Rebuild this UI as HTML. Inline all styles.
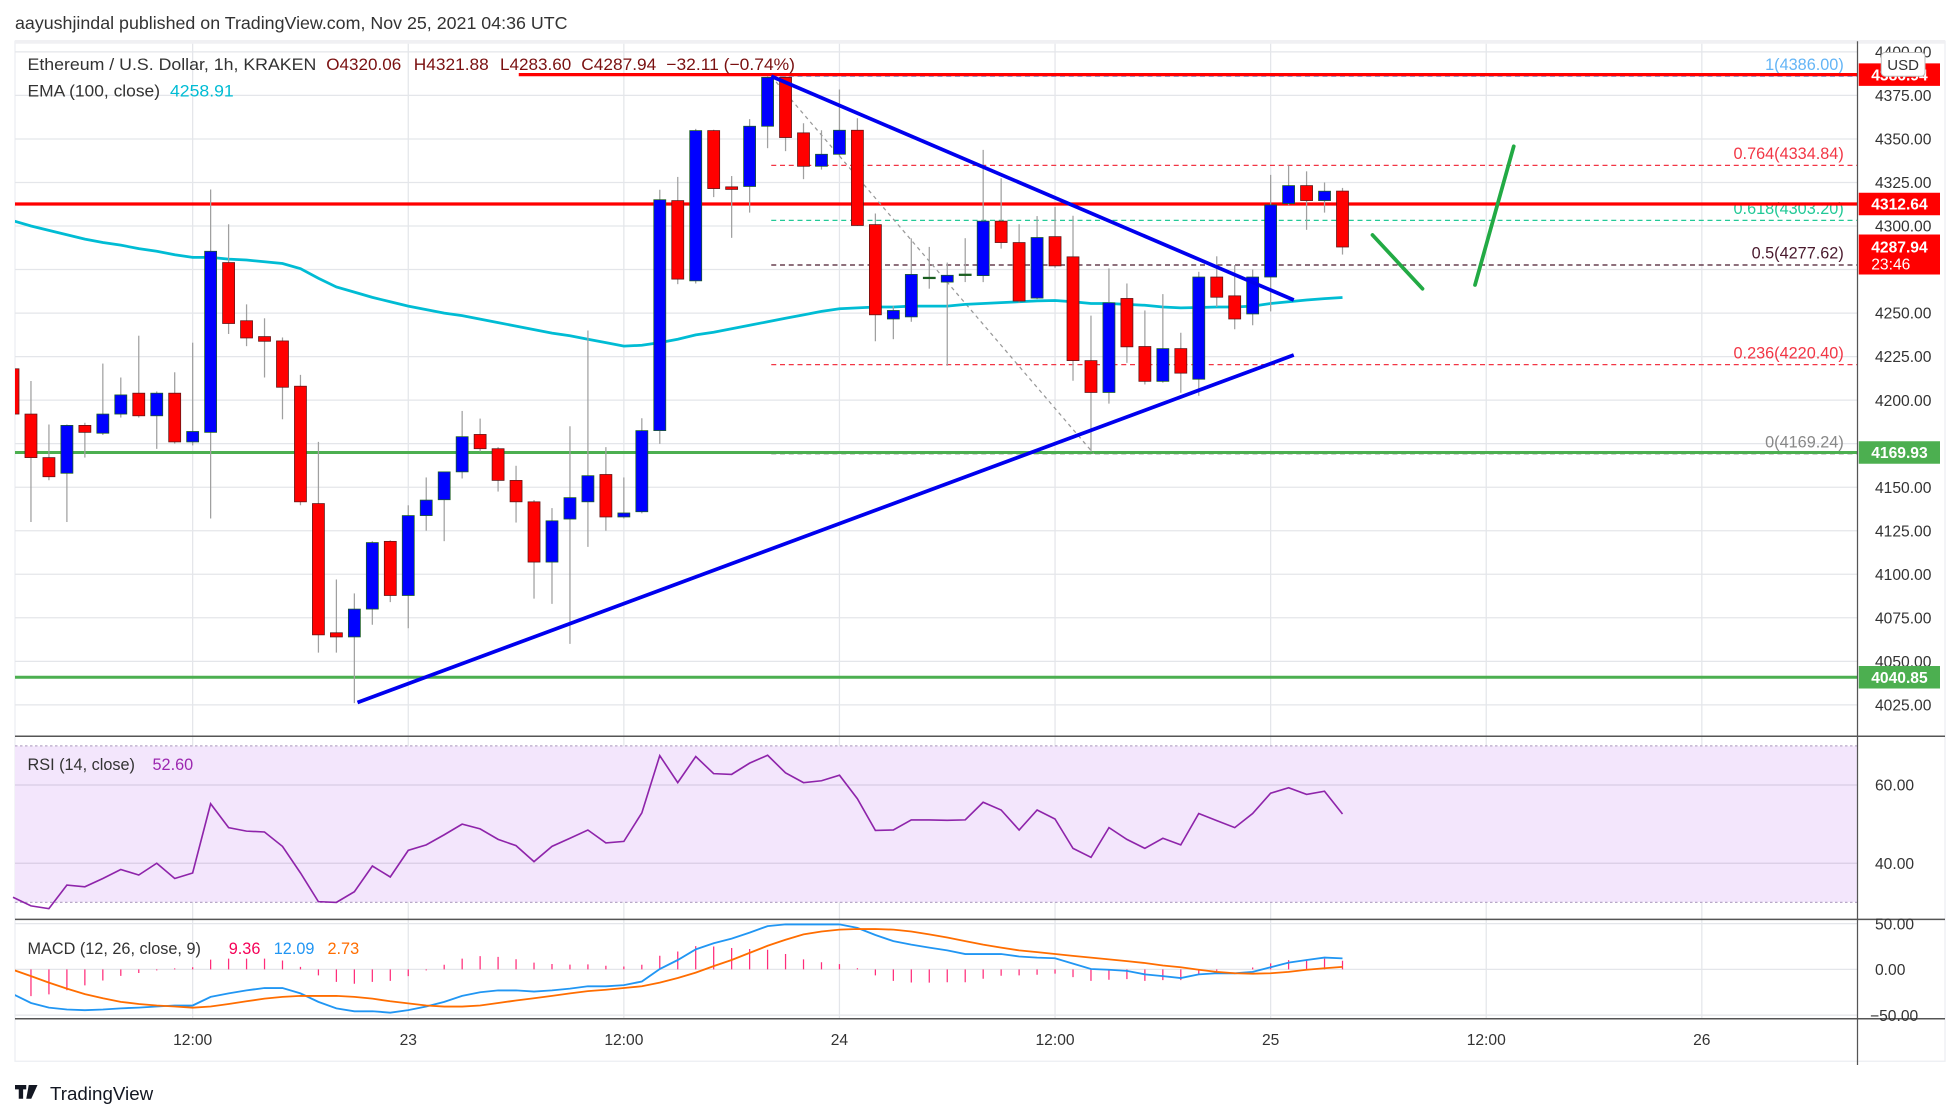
<!DOCTYPE html>
<html><head><meta charset="utf-8">
<style>
html,body{margin:0;padding:0;background:#fff;}
svg{display:block;font-family:"Liberation Sans",sans-serif;}
</style></head>
<body>
<svg id="chart" width="1950" height="1114" viewBox="0 0 1560 891.2" xmlns="http://www.w3.org/2000/svg">
<rect x="0" y="0" width="1560" height="891.2" fill="#fff"/>
<text x="12" y="23" font-size="14" fill="#333" textLength="442" lengthAdjust="spacingAndGlyphs">aayushjindal published on TradingView.com, Nov 25, 2021 04:36 UTC</text>
<rect x="12" y="33" width="1544" height="816" fill="#fff" stroke="#eceef2" stroke-width="1"/>
<rect x="12" y="32" width="1544" height="3" fill="#f0f0f3"/>
<g id="grid"></g>
<rect x="12" y="597" width="1474" height="124.6" fill="#f3e6fc"/>
<g id="rsiGrid"></g>
<g id="drawings-back"></g>
<g id="candles" clip-path="url(#mainclip)"></g>
<g id="drawings"></g>
<g id="rsiG"></g>
<g id="macdG" clip-path="url(#macdclip)"></g>
<defs>
<clipPath id="mainclip"><rect x="12" y="35" width="1474" height="554"/></clipPath>
<clipPath id="macdclip"><rect x="12" y="736" width="1474" height="79"/></clipPath>
</defs>
<g id="axes"></g>
<g id="legend">
<text x="22" y="56" font-size="13.5" fill="#333" textLength="231" lengthAdjust="spacingAndGlyphs">Ethereum / U.S. Dollar, 1h, KRAKEN</text>
<text x="261" y="56" font-size="13.5" fill="#7a1010" textLength="60" lengthAdjust="spacingAndGlyphs">O4320.06</text>
<text x="331" y="56" font-size="13.5" fill="#7a1010" textLength="60" lengthAdjust="spacingAndGlyphs">H4321.88</text>
<text x="400" y="56" font-size="13.5" fill="#7a1010" textLength="57" lengthAdjust="spacingAndGlyphs">L4283.60</text>
<text x="465" y="56" font-size="13.5" fill="#7a1010" textLength="60" lengthAdjust="spacingAndGlyphs">C4287.94</text>
<text x="533" y="56" font-size="13.5" fill="#7a1010" textLength="103" lengthAdjust="spacingAndGlyphs">−32.11 (−0.74%)</text>
<text x="22" y="77" font-size="13.5" fill="#333" textLength="106" lengthAdjust="spacingAndGlyphs">EMA (100, close)</text>
<text x="136" y="77" font-size="13.5" fill="#00bcd4" textLength="51" lengthAdjust="spacingAndGlyphs">4258.91</text>
<text x="22" y="616" font-size="13" fill="#333">RSI (14, close)</text>
<text x="122" y="616" font-size="13" fill="#9c27b0">52.60</text>
<text x="22" y="763" font-size="13" fill="#333">MACD (12, 26, close, 9)</text>
<text x="183" y="763" font-size="13" fill="#f50057">9.36</text>
<text x="219" y="763" font-size="13" fill="#2196f3">12.09</text>
<text x="262" y="763" font-size="13" fill="#ff6d00">2.73</text>
</g>
<g>
<rect x="12" y="868" width="9" height="3.5" fill="#131722"/>
<rect x="15" y="868" width="3.5" height="11" fill="#131722"/>
<polygon points="23,868 30,868 25,879 21,879" fill="#131722"/>
<text x="40" y="880" font-size="15" fill="#131722">TradingView</text>
</g>
<script>
const opens=[4218,4192,4167,4158,4185.5,4181,4192,4204,4191,4204,4176,4181.5,4279,4245.6,4236.5,4234,4208,4140.6,4066.4,4064,4080,4118.9,4087.8,4133.7,4142.8,4158.8,4180.3,4172.1,4153.9,4141.6,4107,4131.7,4141.6,4157.3,4132.9,4135.9,4182.5,4314.6,4268.5,4354.8,4322.5,4322.7,4357.3,4385.4,4353.5,4334.3,4341.2,4355,4300.8,4246.6,4247.8,4270.2,4267.8,4271.8,4271.5,4302.8,4290.5,4258.6,4293.9,4282.3,4222.7,4204.4,4258.4,4230.8,4210.8,4229.6,4212,4270.7,4259.9,4249.5,4270.7,4312.9,4323.2,4314.6,4320.06];
const highs=[4220,4211,4186,4186,4187,4221,4213,4237,4205,4216,4233,4321,4301,4255,4247,4236,4214.5,4176,4097,4089,4119,4119.5,4139.6,4155.6,4159,4193.8,4189.4,4173,4162.3,4142.6,4138,4185,4240,4173,4155.6,4189.6,4320.8,4328.2,4355.8,4355.3,4328.7,4361.4,4386,4386,4359,4355,4378.4,4361.9,4307.2,4254,4292.9,4288,4279,4293,4343.7,4327.4,4301,4305.7,4310.9,4305.9,4248.5,4275.7,4267,4251.5,4260.9,4238.7,4273.7,4282.6,4277.6,4275,4329.4,4334.8,4331.4,4325,4321.88];
const lows=[4188,4130,4154,4130,4167,4180,4190,4190,4172,4175,4174,4132,4238,4231,4213,4189,4139.6,4055,4055,4026,4071,4084,4069,4125,4119,4155,4170.4,4147.5,4129.7,4086,4083,4060,4115.7,4125,4132,4135,4174.9,4266.6,4267,4316.6,4293.2,4307.7,4344.7,4343,4326.9,4332.4,4340,4300,4233.8,4235,4245,4264,4219.7,4267.8,4267.8,4287,4256,4258,4276,4211.1,4170.4,4198,4221.4,4209,4210,4204.2,4202.5,4253.5,4240.7,4243,4251,4312,4297.8,4307.7,4283.6];
const closes=[4192,4167,4156,4185.5,4181.5,4192,4203,4191,4204,4176,4182,4285.5,4244,4235.7,4233.8,4207.4,4141.6,4065.2,4064,4080,4118.2,4087.8,4133.7,4142.6,4158.8,4179,4172.1,4153.9,4141.6,4107,4130.7,4144,4156.6,4132.9,4135.2,4182.5,4315.1,4269.5,4354.8,4321.5,4321,4357.3,4385.4,4350.8,4334.3,4341.2,4355,4300.3,4249,4251.5,4272.2,4270.6,4271.7,4272.4,4302.8,4290.5,4256.9,4293.4,4277.1,4222.7,4204.4,4255.9,4230.6,4210.8,4229.6,4215.5,4270.7,4259.1,4246.6,4270.7,4312.1,4323.2,4314.6,4320,4287.94];
const emaVals=[4303,4300,4297.5,4295,4292.5,4290.5,4289,4287,4285.5,4283.5,4282,4282,4281,4280.5,4279.5,4278.5,4275.5,4270,4265,4262,4259,4256.5,4254,4252,4250,4248.5,4246.5,4244.5,4242.5,4240.5,4238.5,4237,4235,4233,4231,4231.5,4233,4235,4237.5,4239,4241,4243,4245,4247,4249,4251,4252.5,4253,4253.5,4253.5,4254,4254,4254,4255,4255.5,4256,4256.5,4257,4257.2,4256.5,4255.5,4255.5,4255,4254.5,4253.5,4253,4253.2,4253.5,4253.5,4254,4255.5,4256.5,4257.5,4258.3,4258.91];
const rsiVals=[31.3,29.1,28.4,34.4,34,36.1,38.4,37,40,36.1,37.5,55.2,49.1,48.2,48,44.3,37.5,30.2,30,32.7,39.3,36.5,43.3,44.7,47.3,50,48.8,46.1,44.5,40.4,44.3,46.4,48.5,45.2,45.6,52.9,67.5,60.6,67.3,62.9,62.7,65.6,67.6,63.1,60.6,61.1,62.5,56.5,48.4,48.5,51.1,51.1,51,51.1,55.6,53.6,48.5,53.6,51.3,43.8,41.5,49.1,46.1,43.8,46.4,44.7,52.7,50.9,49.1,52.7,57.9,59.3,57.6,58.4,52.6];
const macdVals=[-27,-36.7,-41.8,-43.8,-44.5,-43.8,-42.6,-41.8,-40.6,-39.5,-39.5,-30,-26.2,-23,-20.3,-20.3,-26.2,-35.5,-42.6,-45.7,-45.7,-47.3,-44.5,-40.6,-35.5,-28.9,-25,-23,-23,-24.2,-23,-21,-18.4,-18.4,-17.2,-13.3,0.4,10.2,21.9,28.5,33.6,40.2,47.3,49.2,49.2,49.2,49.2,45.3,37.5,30.9,27,23.8,20.7,16.8,16.8,16.8,14.1,12.9,12.1,6.3,0.4,-0.4,-1.6,-5.5,-7.4,-9.4,-5.5,-4.3,-4.3,-2.7,2.3,7.4,10.2,12.9,12.09];
const signalVals=[-0.4,-7.4,-14.5,-21,-27,-31.6,-35.5,-37.9,-39.5,-40.6,-41.8,-40.6,-37.9,-34.8,-32,-30,-28.9,-28.9,-28.9,-30,-32,-34.8,-37.1,-39.5,-40.6,-40.6,-39.5,-36.7,-34,-31.6,-28.9,-26.2,-23.8,-22.3,-20.3,-18.4,-14.5,-9.4,-3.5,3.5,10.2,18,25.8,32.4,38.3,41.4,43.4,44.1,44.1,43.4,41.4,38.3,34.8,30.9,27,23.8,20.7,18.8,16.8,14.8,12.9,10.9,9,7,4.3,2.3,-0.4,-2.7,-4.3,-4.7,-4.3,-2.7,-0.4,1.2,2.73];
const priceTicks=[4400,4375,4350,4325,4300,4275,4250,4225,4200,4175,4150,4125,4100,4075,4050,4025];
const priceTickLabels=["4400.00","4375.00","4350.00","4325.00","4300.00","","4250.00","4225.00","4200.00","","4150.00","4125.00","4100.00","4075.00","4050.00","4025.00"];
const timeTickIdx=[10,22,34,46,58,70,82,94];
const timeTickLabels=["12:00","23","12:00","24","12:00","25","12:00","26"];
const rsiTicks=[60,40];
const macdTicks=[50,0,-50];
const fibLevels=[4386.00,4334.84,4303.20,4277.62,4220.40,4169.24];
const fibNames=["1","0.764","0.618","0.5","0.236","0"];
const hLevels=[4386.94,4312.64,4169.93,4040.85];

const NS="http://www.w3.org/2000/svg";
function xAt(i){return 10.4+14.373*i;}
function yP(p){return 163.2-(p-4312.64)*1.393;}
function yR(v){return 628-(v-60)*3.13;}
function yM(v){return 775.5-v*0.732;}
function mk(parent,tag,attrs){const e=document.createElementNS(NS,tag);for(const k in attrs)e.setAttribute(k,attrs[k]);parent.appendChild(e);return e;}
const grid=document.getElementById('grid');
priceTicks.forEach(p=>{const l=mk(grid,'line',{x1:12,x2:1486,y1:yP(p),y2:yP(p),stroke:'#e4e6ea','stroke-width':1});

});
timeTickIdx.forEach(i=>{const l=mk(grid,'line',{x1:xAt(i),x2:xAt(i),y1:35,y2:815,stroke:'#e4e6ea','stroke-width':1});

});
const rg=document.getElementById('rsiGrid');
rsiTicks.forEach(v=>{const l=mk(rg,'line',{x1:12,x2:1486,y1:yR(v),y2:yR(v),stroke:'#d8cde4','stroke-width':1});

});
[70,30].forEach(v=>{const l=mk(rg,'line',{x1:12,x2:1486,y1:yR(v),y2:yR(v),stroke:'#b9a9c9','stroke-width':1,'stroke-dasharray':'2,2'});

});
macdTicks.forEach(v=>{const l=mk(grid,'line',{x1:12,x2:1486,y1:yM(v),y2:yM(v),stroke:'#e4e6ea','stroke-width':1});

});

const db=document.getElementById('drawings-back');
const fibColors=["#64b5f6","#f23645","#22c997","#4a1a2e","#f23645","#888"];
fibLevels.forEach((p,k)=>{const l=mk(db,'line',{x1:617,x2:1486,y1:yP(p),y2:yP(p),stroke:fibColors[k],'stroke-width':1,'stroke-dasharray':'4,3'});


const t=mk(db,'text',{x:1475,y:yP(p)-5,'text-anchor':'end','font-size':13,fill:fibColors[k]});
t.textContent=fibNames[k]+'('+p.toFixed(2)+')';

});
const hColors=["#ff0000","#ff0000","#4caf50","#4caf50"];
hLevels.forEach((p,k)=>{const l=mk(db,'line',{x1:k===0?415:12,x2:1486,y1:yP(p),y2:yP(p),stroke:hColors[k],'stroke-width':k<2?2.6:2.4});

});
const gd=mk(db,'line',{x1:617,y1:yP(4386),x2:875,y2:yP(4169.24),stroke:'#999','stroke-width':1,'stroke-dasharray':'3,3'});



let d='';emaVals.forEach((v,i)=>{d+=(i?'L':'M')+xAt(i).toFixed(1)+','+yP(v).toFixed(1);});
const cg=document.getElementById('candles');
const ema=mk(cg,'path',{d:d,fill:'none',stroke:'#00bcd4','stroke-width':2.2});


opens.forEach((o,i)=>{const c=closes[i],x=xAt(i),up=c>=o;
const w=mk(cg,'line',{x1:x,x2:x,y1:yP(highs[i]),y2:yP(lows[i]),stroke:'#a0a0a0','stroke-width':1});


const top=yP(Math.max(o,c)),h=Math.max(1.2,Math.abs(yP(o)-yP(c)));
const b=mk(cg,'rect',{x:x-4.8,y:top,width:9.6,height:h,fill:h<2?'#1b5e20':(up?'#0000ff':'#ff0000'),stroke:up?'#1b5e20':'#5d1515','stroke-width':0.6});

});

const dr=document.getElementById('drawings');
const t1=mk(dr,'line',{x1:617,y1:61,x2:1035,y2:240,stroke:'#0000ee','stroke-width':3});


const t2=mk(dr,'line',{x1:286,y1:562,x2:1035,y2:284,stroke:'#0000ee','stroke-width':3});


const a1=mk(dr,'line',{x1:1098,y1:188,x2:1138,y2:231,stroke:'#22aa44','stroke-width':3,'stroke-linecap':'round'});


const a2=mk(dr,'line',{x1:1180,y1:228,x2:1211,y2:117,stroke:'#22aa44','stroke-width':3,'stroke-linecap':'round'});



const rG=document.getElementById('rsiG');
d='';rsiVals.forEach((v,i)=>{d+=(i?'L':'M')+xAt(i).toFixed(1)+','+yR(v).toFixed(1);});
const rl=mk(rG,'path',{d:d,fill:'none',stroke:'#8e24aa','stroke-width':1.3});



const mG=document.getElementById('macdG');
macdVals.forEach((v,i)=>{const hv=v-signalVals[i];
const hb=mk(mG,'line',{x1:xAt(i),x2:xAt(i),y1:yM(0),y2:yM(hv),stroke:'#ff2d7a','stroke-width':1});

});
d='';macdVals.forEach((v,i)=>{d+=(i?'L':'M')+xAt(i).toFixed(1)+','+yM(v).toFixed(1);});
const ml=mk(mG,'path',{d:d,fill:'none',stroke:'#2196f3','stroke-width':1.5});


d='';signalVals.forEach((v,i)=>{d+=(i?'L':'M')+xAt(i).toFixed(1)+','+yM(v).toFixed(1);});
const sl=mk(mG,'path',{d:d,fill:'none',stroke:'#ff6d00','stroke-width':1.5});



const ax=document.getElementById('axes');
[[589,'main-pane-border'],[735.5,'rsi-pane-border'],[815,'macd-pane-border']].forEach(a=>{const l=mk(ax,'line',{x1:12,x2:1556,y1:a[0],y2:a[0],stroke:'#555','stroke-width':1.2});

});
const va=mk(ax,'line',{x1:1486,x2:1486,y1:33,y2:852,stroke:'#555','stroke-width':1});


priceTicks.forEach((p,k)=>{if(!priceTickLabels[k])return;const t=mk(ax,'text',{x:1500,y:yP(p)+4.5,'font-size':12.5,fill:'#333'});t.textContent=priceTickLabels[k];

});
rsiTicks.forEach(v=>{const t=mk(ax,'text',{x:1500,y:yR(v)+4.5,'font-size':12.5,fill:'#333'});t.textContent=v.toFixed(2);

});
macdTicks.forEach(v=>{const t=mk(ax,'text',{x:v<0?1496:1500,y:yM(v)+4.5,'font-size':12.5,fill:'#333'});t.textContent=(v<0?'−':'')+Math.abs(v).toFixed(2);

});
timeTickIdx.forEach((i,k)=>{const t=mk(ax,'text',{x:xAt(i),y:836,'text-anchor':'middle','font-size':12.5,fill:'#333'});t.textContent=timeTickLabels[k];

});
const boxes=[[4386.94,'#ff0000','4386.94'],[4312.64,'#ff0000','4312.64'],[4169.93,'#4caf50','4169.93'],[4040.85,'#4caf50','4040.85']];
boxes.forEach(b=>{const y=yP(b[0]);const r=mk(ax,'rect',{x:1487,y:y-9,width:65,height:18,fill:b[1]});


const t=mk(ax,'text',{x:1497,y:y+4.5,'font-size':12.5,fill:'#fff','font-weight':'bold'});t.textContent=b[2];

});
const lastY=yP(closes[closes.length-1]);
const lr=mk(ax,'rect',{x:1487,y:lastY-10,width:65,height:32,fill:'#ff0000'});


const lt=mk(ax,'text',{x:1497,y:lastY+4.5,'font-size':12.5,fill:'#fff','font-weight':'bold'});lt.textContent=closes[closes.length-1].toFixed(2);


const lc=mk(ax,'text',{x:1497,y:lastY+18,'font-size':12.5,fill:'#fff'});lc.textContent='23:46';


const ub=mk(ax,'rect',{x:1505,y:42,width:35,height:19,rx:3,fill:'#fff',stroke:'#bbb','stroke-width':0.8});


const ut=mk(ax,'text',{x:1522.5,y:56,'text-anchor':'middle','font-size':12,fill:'#333'});ut.textContent='USD';


</script>
</svg>
</body></html>
